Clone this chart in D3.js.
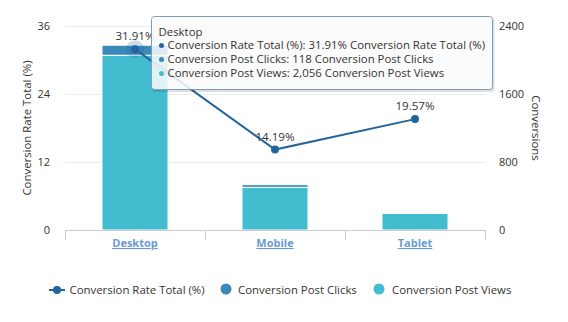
<!DOCTYPE html>
<html>
<head>
<meta charset="utf-8">
<script src="https://cdn.jsdelivr.net/npm/d3@7/dist/d3.min.js"></script>
<style>
  html, body { margin: 0; padding: 0; background: #fff; }
  svg { display: block; font-family: "Open Sans", sans-serif; }
</style>
</head>
<body>
<svg id="chart" width="568" height="322"></svg>
<script>
// Conversion data by device
const categories = ["Desktop", "Mobile", "Tablet"];
const conversionRate = [31.91, 14.19, 19.57];
const postClicks = [118, 31, 2];
const postViews = [2056, 502, 195];
const leftTicks = [0, 12, 24, 36];
const rightTicks = [0, 800, 1600, 2400];

const colors = {
  line: "#24649e",
  clicks: "#3a89bb",
  views: "#44bcd0",
  text: "#333333",
  category: "#6a9bd0"
};
const fs = 11.4;

const svg = d3.select("#chart");
const margin = { left: 65, right: 83, top: 26, bottom: 92 };
const width = 568, height = 322;
const x0 = margin.left, x1 = width - margin.right;
const y0 = height - margin.bottom, y1 = margin.top;

const x = d3.scaleBand().domain(categories).range([x0, x1]).paddingInner(0.5286).paddingOuter(0.2643);
const yL = d3.scaleLinear().domain([0, 36]).range([y0, y1]);
const yR = d3.scaleLinear().domain([0, 2400]).range([y0, y1]);

// gridlines
svg.append("g").selectAll("line").data(leftTicks.filter(d => d > 0)).join("line")
  .attr("x1", x0).attr("x2", x1)
  .attr("y1", d => yL(d) + 0.5).attr("y2", d => yL(d) + 0.5)
  .attr("stroke", "#ececec").attr("stroke-width", 1);

// left axis labels
const leftAxis = d3.axisLeft(yL).tickValues(leftTicks).tickSize(0).tickPadding(15);
const gL = svg.append("g").attr("transform", `translate(${x0},0)`).call(leftAxis);
gL.select(".domain").remove();
gL.selectAll("text").attr("fill", colors.text).attr("font-size", 11).attr("font-family", "Open Sans");

// right axis labels
const rightAxis = d3.axisRight(yR).tickValues(rightTicks).tickFormat(d3.format("d")).tickSize(0).tickPadding(14);
const gR = svg.append("g").attr("transform", `translate(${x1},0)`).call(rightAxis);
gR.select(".domain").remove();
gR.selectAll("text").attr("fill", colors.text).attr("font-size", 11).attr("font-family", "Open Sans");

// axis titles
svg.append("text")
  .attr("transform", `translate(31,${(y0 + y1) / 2}) rotate(-90)`)
  .attr("text-anchor", "middle").attr("font-size", fs).attr("fill", colors.text)
  .text("Conversion Rate Total (%)");
svg.append("text")
  .attr("transform", `translate(532,${(y0 + y1) / 2}) rotate(90)`)
  .attr("text-anchor", "middle").attr("font-size", fs).attr("fill", colors.text)
  .text("Conversions");

// stacked bars
const stackData = categories.map((c, i) => ({ cat: c, views: postViews[i], clicks: postClicks[i] }));
const stack = d3.stack().keys(["views", "clicks"])(stackData);
const barColors = { views: colors.views, clicks: colors.clicks };
svg.append("g").selectAll("g").data(stack).join("g")
  .attr("fill", d => barColors[d.key])
  .selectAll("rect").data(d => d).join("rect")
  .attr("x", d => x(d.data.cat))
  .attr("width", x.bandwidth())
  .attr("y", d => yR(d[1]))
  .attr("height", d => yR(d[0]) - yR(d[1]))
  .attr("stroke", "#ffffff").attr("stroke-width", 1);

// bottom axis
svg.append("line").attr("x1", x0).attr("x2", x1).attr("y1", y0 + 0.5).attr("y2", y0 + 0.5)
  .attr("stroke", "#cccccc").attr("stroke-width", 1);
const tickXs = [x0].concat(categories.map(c => x(c) + x.bandwidth() + x.step() * x.paddingInner() / 2));
svg.append("g").selectAll("line").data(tickXs).join("line")
  .attr("x1", d => Math.round(d) + 0.5).attr("x2", d => Math.round(d) + 0.5)
  .attr("y1", y0).attr("y2", y0 + 10)
  .attr("stroke", "#cccccc");
svg.append("g").selectAll("text").data(categories).join("text")
  .attr("x", d => x(d) + x.bandwidth() / 2)
  .attr("y", y0 + 17)
  .attr("text-anchor", "middle")
  .attr("font-size", 11).attr("font-weight", "bold")
  .attr("fill", colors.category)
  .attr("text-decoration", "underline")
  .text(d => d);

// conversion rate line
const pts = categories.map((c, i) => ({ cat: c, v: conversionRate[i] }));
const cx = d => x(d.cat) + x.bandwidth() / 2;
svg.append("path").datum(pts)
  .attr("d", d3.line().x(cx).y(d => yL(d.v)))
  .attr("fill", "none").attr("stroke", colors.line).attr("stroke-width", 2);
// hover halo on the first point
svg.append("circle").attr("cx", cx(pts[0])).attr("cy", yL(pts[0].v)).attr("r", 9)
  .attr("fill", colors.line).attr("opacity", 0.22);
svg.append("g").selectAll("circle").data(pts).join("circle")
  .attr("cx", cx).attr("cy", d => yL(d.v)).attr("r", 4)
  .attr("fill", colors.line);
svg.append("g").selectAll("text").data(pts).join("text")
  .attr("x", cx).attr("y", d => yL(d.v) - 9)
  .attr("text-anchor", "middle").attr("font-size", 11.6).attr("fill", colors.text)
  .text(d => d.v.toFixed(2) + "%");

// legend
const legend = svg.append("g").attr("font-size", fs).attr("fill", colors.text);
const ly = 290;
legend.append("line").attr("x1", 49).attr("x2", 65).attr("y1", ly).attr("y2", ly)
  .attr("stroke", colors.line).attr("stroke-width", 2);
legend.append("circle").attr("cx", 57).attr("cy", ly).attr("r", 4).attr("fill", colors.line);
legend.append("text").attr("x", 69.5).attr("y", ly + 4).text("Conversion Rate Total (%)");
legend.append("circle").attr("cx", 226).attr("cy", ly - 1).attr("r", 5.5).attr("fill", colors.clicks);
legend.append("text").attr("x", 238).attr("y", ly + 4).text("Conversion Post Clicks");
legend.append("circle").attr("cx", 379).attr("cy", ly - 1).attr("r", 5.5).attr("fill", colors.views);
legend.append("text").attr("x", 392).attr("y", ly + 4).text("Conversion Post Views");

// tooltip for Desktop
const fmt = d3.format(",");
const tip = svg.append("g").attr("transform", "translate(151.5,16.5)");
tip.append("rect").attr("x", 1).attr("y", 1.5).attr("width", 342).attr("height", 74).attr("rx", 3)
  .attr("fill", "rgba(0,0,0,0.12)");
tip.append("rect").attr("width", 341).attr("height", 73).attr("rx", 3)
  .attr("fill", "rgba(255,255,255,0.85)").attr("stroke", "#7d9dc0").attr("stroke-width", 1);
tip.append("text").attr("x", 7).attr("y", 19).attr("font-size", fs).attr("fill", colors.text).text(categories[0]);
const tipRows = [
  { c: colors.line, t: `Conversion Rate Total (%): ${conversionRate[0].toFixed(2)}% Conversion Rate Total (%)` },
  { c: colors.clicks, t: `Conversion Post Clicks: ${fmt(postClicks[0])} Conversion Post Clicks` },
  { c: colors.views, t: `Conversion Post Views: ${fmt(postViews[0])} Conversion Post Views` }
];
tipRows.forEach((r, i) => {
  const yy = 32.5 + i * 14;
  tip.append("circle").attr("cx", 10).attr("cy", yy - 3.5).attr("r", 2.5).attr("fill", r.c);
  tip.append("text").attr("x", 16).attr("y", yy).attr("font-size", fs).attr("fill", colors.text).text(r.t);
});
</script>
</body>
</html>
